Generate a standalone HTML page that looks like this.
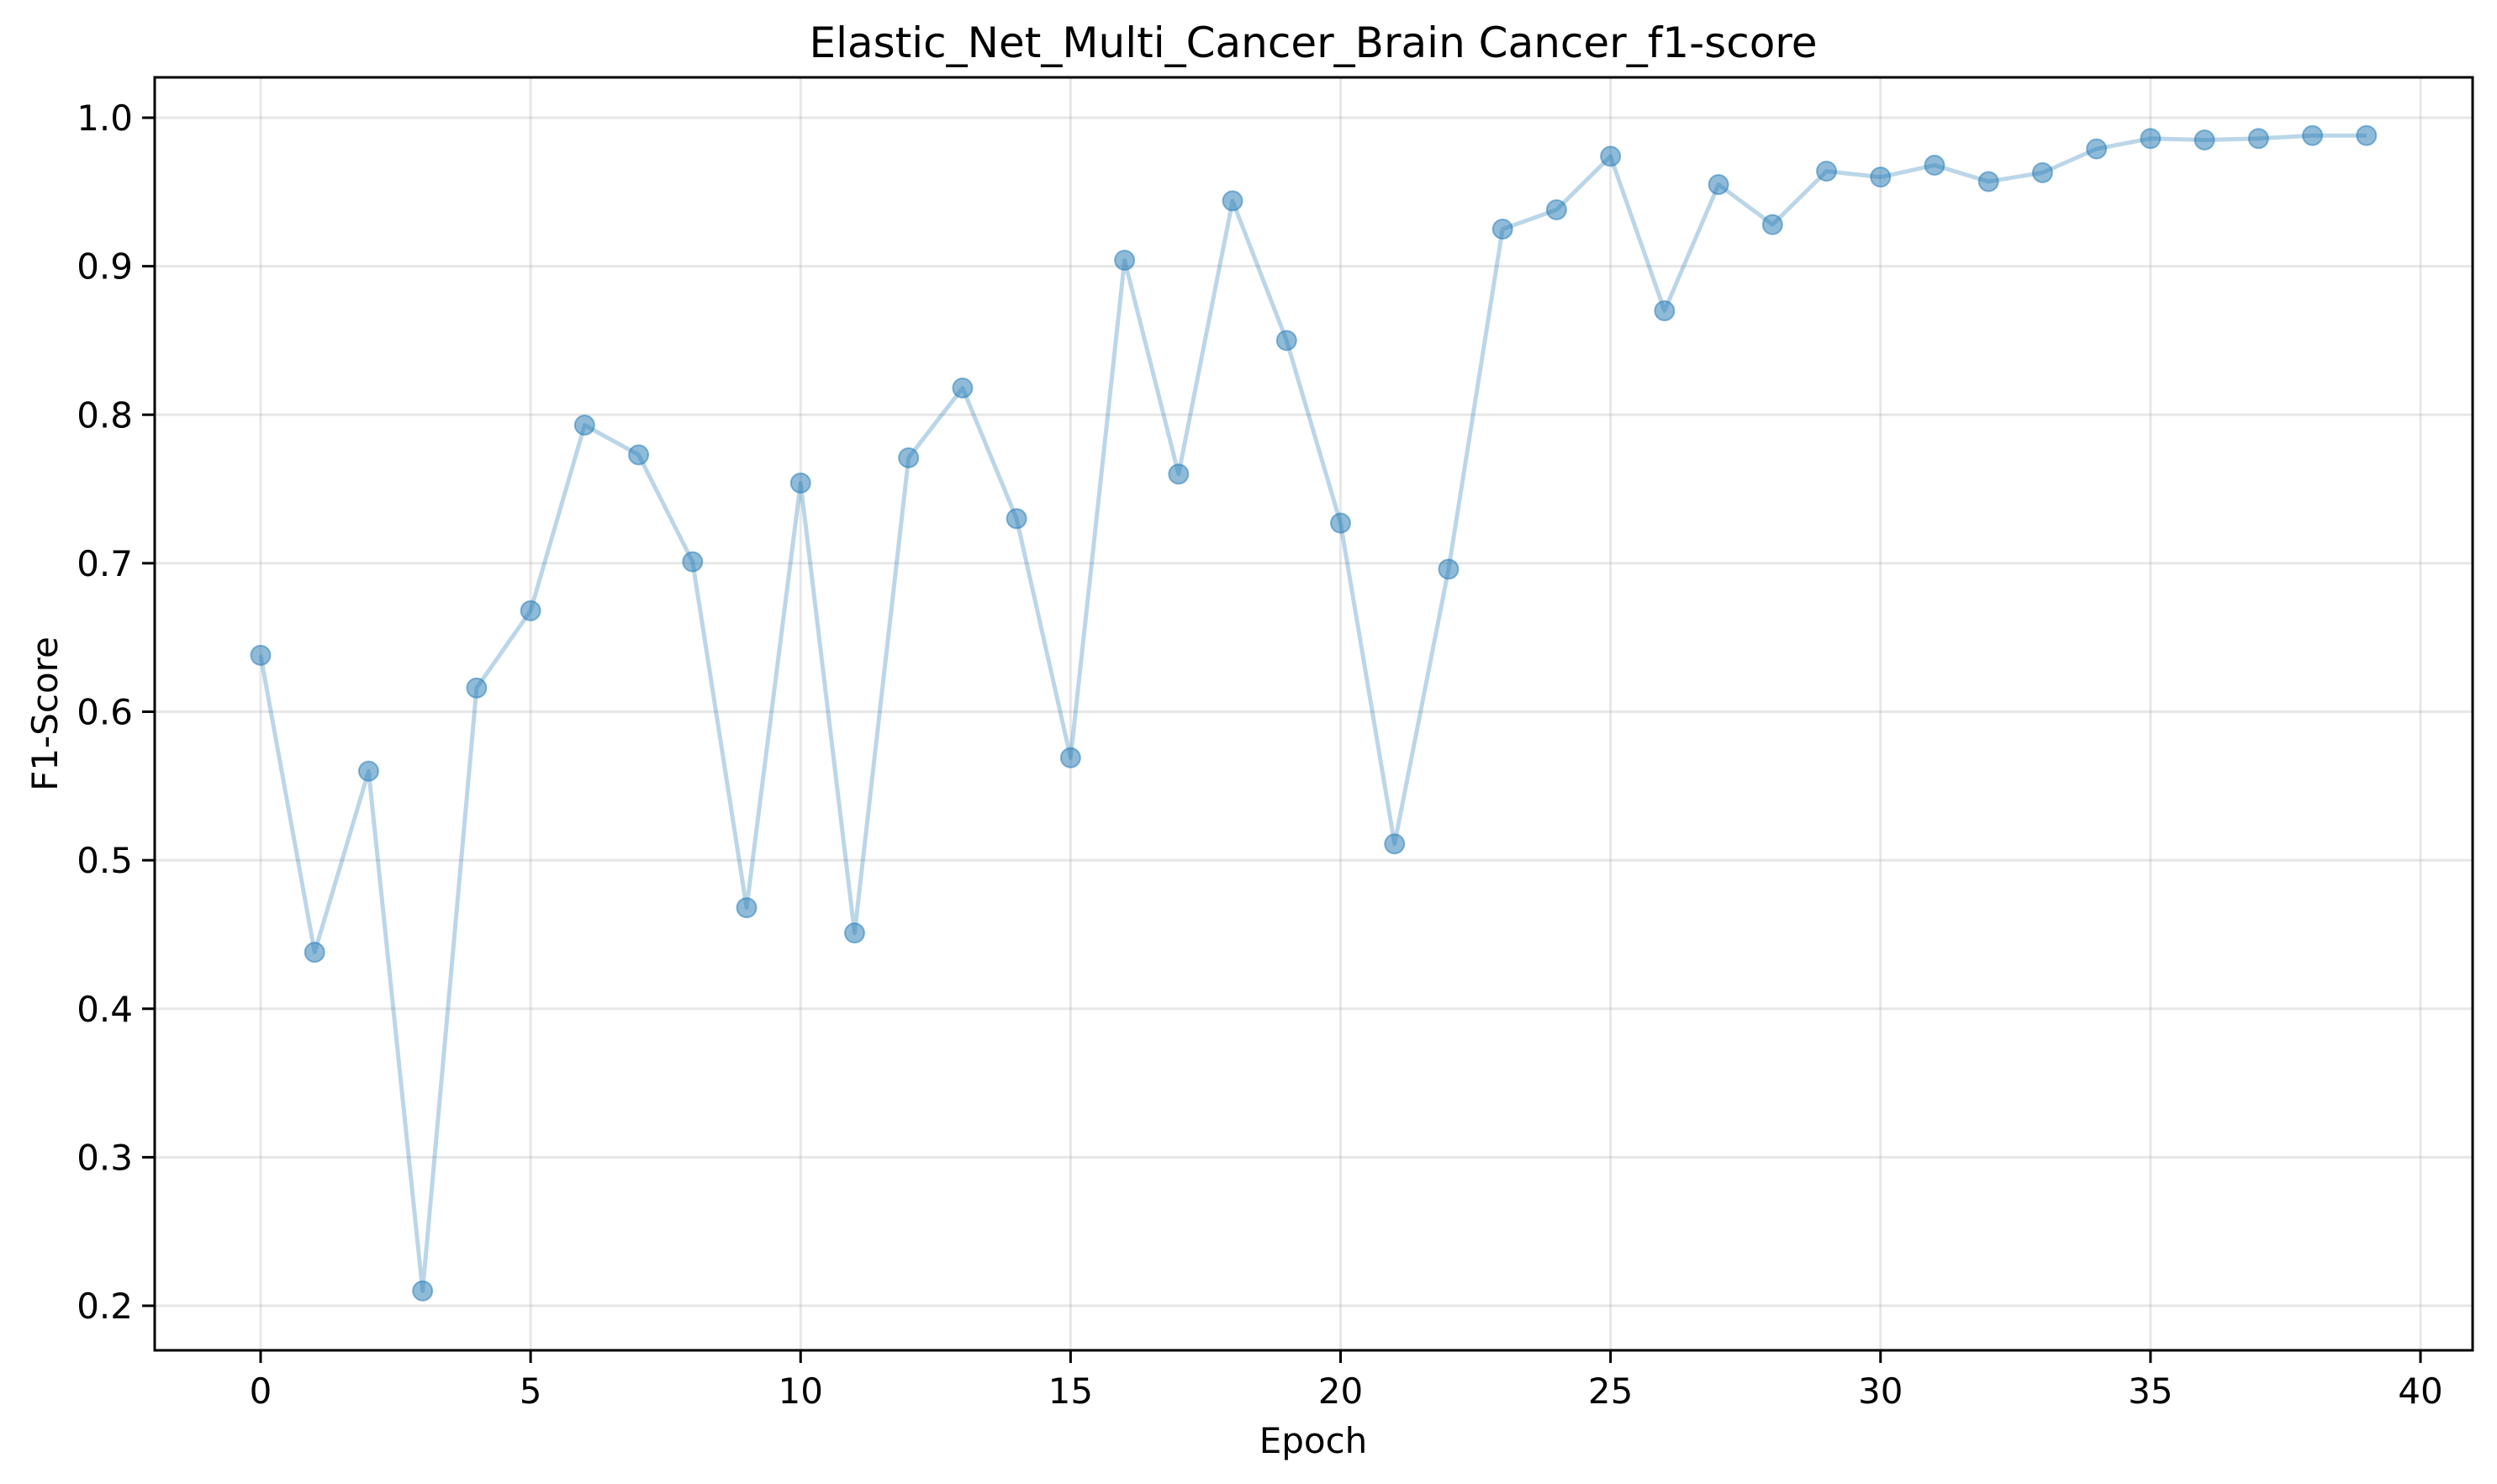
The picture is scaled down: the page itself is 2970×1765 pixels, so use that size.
<!DOCTYPE html>
<html><head><meta charset="utf-8"><style>
html,body{margin:0;padding:0;background:#fff;}
svg{display:block;font-family:"DejaVu Sans","Liberation Sans",sans-serif;}
</style></head><body>
<svg id="chart" width="2970" height="1765" viewBox="0 0 2970 1765" xmlns="http://www.w3.org/2000/svg">
<rect width="2970" height="1765" fill="#fff"/>
<g id="grid"></g>
<g id="series"></g>
<rect x="184" y="92" width="2757" height="1514" fill="none" stroke="#000" stroke-width="3"/>
<g id="ticks"></g>
<text x="1562" y="68" text-anchor="middle" font-size="50">Elastic_Net_Multi_Cancer_Brain Cancer_f1-score</text>
<text x="1562" y="1728" text-anchor="middle" font-size="42">Epoch</text>
<text x="68" y="849" text-anchor="middle" font-size="42" transform="rotate(-90 68 849)">F1-Score</text>
</svg>
<script>
const epochs = [0,1,2,3,4,5,6,7,8,9,10,11,12,13,14,15,16,17,18,19,20,21,22,23,24,25,26,27,28,29,30,31,32,33,34,35,36,37,38,39];
const f1Scores = [0.638,0.438,0.560,0.210,0.616,0.668,0.793,0.773,0.701,0.468,0.754,0.451,0.771,0.818,0.730,0.569,0.904,0.760,0.944,0.850,0.727,0.511,0.696,0.925,0.938,0.974,0.870,0.955,0.928,0.964,0.960,0.968,0.957,0.963,0.979,0.986,0.985,0.986,0.988,0.988];
const xTicks = [0,5,10,15,20,25,30,35,40];
const yTicks = [0.2,0.3,0.4,0.5,0.6,0.7,0.8,0.9,1.0];
const NS = "http://www.w3.org/2000/svg";
const L=184,R=2941,T=92,B=1606;
function xs(v){return 310+(v-0)*(2879-310)/40;}
function ys(v){return 140+(1.0-v)*(1553-140)/0.8;}
function mk(tag,attrs,parent){const e=document.createElementNS(NS,tag);for(const k in attrs)e.setAttribute(k,attrs[k]);parent.appendChild(e);return e;}
const grid=document.getElementById('grid'),ticks=document.getElementById('ticks'),series=document.getElementById('series');
xTicks.forEach(t=>{
  const x=xs(t);
  const g=mk('line',{x1:x,x2:x,y1:T,y2:B,stroke:'#b0b0b0','stroke-opacity':0.3,'stroke-width':3},grid);
  
  
  const tk=mk('line',{x1:x,x2:x,y1:B,y2:B+15,stroke:'#000','stroke-width':3},ticks);
  
  
  const lb=mk('text',{x:x,y:B+63,'text-anchor':'middle','font-size':42},ticks);
  lb.textContent=t;
  
  
});
yTicks.forEach(t=>{
  const y=ys(t);
  const g=mk('line',{x1:L,x2:R,y1:y,y2:y,stroke:'#b0b0b0','stroke-opacity':0.3,'stroke-width':3},grid);
  
  
  const tk=mk('line',{x1:L-15,x2:L,y1:y,y2:y,stroke:'#000','stroke-width':3},ticks);
  
  
  const lb=mk('text',{x:L-26,y:y+15,'text-anchor':'end','font-size':42},ticks);
  lb.textContent=t.toFixed(1);
  
  
});
const pts=epochs.map((e,i)=>xs(e)+','+ys(f1Scores[i])).join(' ');
const pl=mk('polyline',{points:pts,fill:'none',stroke:'#1f77b4','stroke-opacity':0.3,'stroke-width':5,'stroke-linejoin':'round'},series);


epochs.forEach((e,i)=>{
  const c=mk('circle',{cx:xs(e),cy:ys(f1Scores[i]),r:11.5,fill:'#1f77b4','fill-opacity':0.5,stroke:'#1f77b4','stroke-opacity':0.5,'stroke-width':2},series);
  
  
});
</script>
</body></html>
